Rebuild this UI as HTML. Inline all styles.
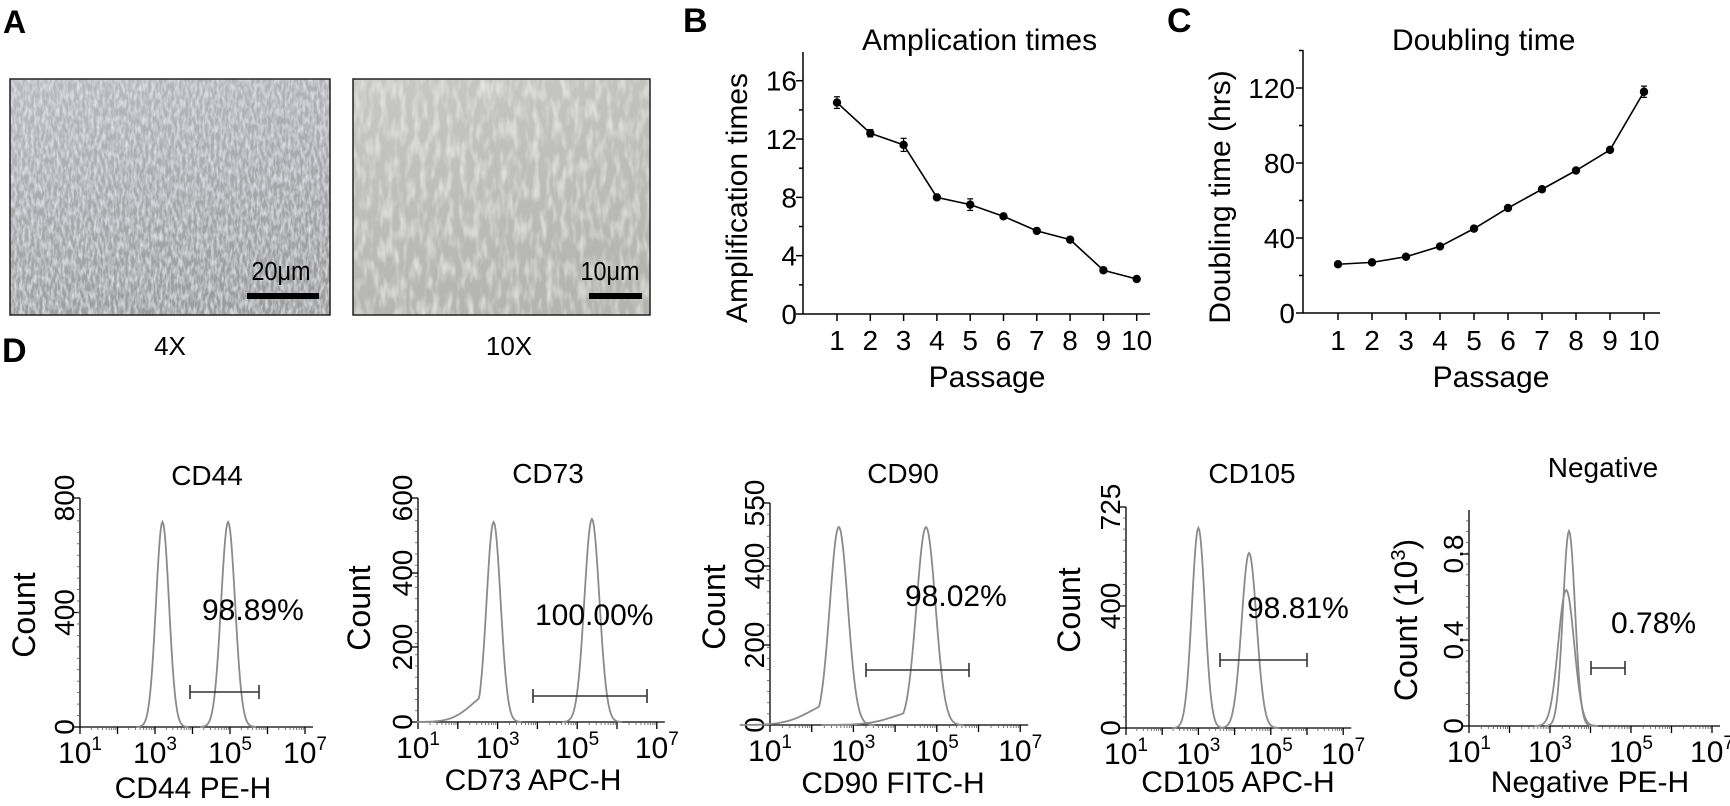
<!DOCTYPE html>
<html><head><meta charset="utf-8"><style>
html,body{margin:0;padding:0;background:#fff;}
svg{display:block;font-family:"Liberation Sans",sans-serif;}
</style></head><body>
<svg id="s" width="1730" height="806" viewBox="0 0 1730 806" xmlns="http://www.w3.org/2000/svg">
<defs>
<filter id="tex1" x="0" y="0" width="100%" height="100%">
<feTurbulence type="fractalNoise" baseFrequency="0.35 0.12" numOctaves="2" seed="3" result="n"/>
<feColorMatrix in="n" type="matrix" values="0 0 0 0 0.88  0 0 0 0 0.9  0 0 0 0 0.95  0 0 0 1.4 -0.5" result="c"/>
<feComposite in="c" in2="SourceGraphic" operator="atop"/>
</filter>
<filter id="tex2" x="0" y="0" width="100%" height="100%">
<feTurbulence type="fractalNoise" baseFrequency="0.15 0.05" numOctaves="2" seed="7" result="n"/>
<feColorMatrix in="n" type="matrix" values="0 0 0 0 0.93  0 0 0 0 0.93  0 0 0 0 0.91  0 0 0 1.3 -0.55" result="c"/>
<feComposite in="c" in2="SourceGraphic" operator="atop"/>
</filter>
<linearGradient id="g1" x1="0" y1="0" x2="0.3" y2="1"><stop offset="0" stop-color="#b8bac2"/><stop offset="1" stop-color="#9c9c9c"/></linearGradient>
<linearGradient id="g2" x1="0" y1="0" x2="0.3" y2="1"><stop offset="0" stop-color="#c8c8c4"/><stop offset="1" stop-color="#b4b4b0"/></linearGradient>
</defs>
<text x="3" y="33" font-size="32" font-weight="bold">A</text>
<rect x="10" y="79" width="320" height="236" fill="url(#g1)" filter="url(#tex1)"/>
<rect x="10" y="79" width="320" height="236" fill="none" stroke="#222" stroke-width="1.5"/>
<rect x="247" y="293" width="72" height="6" fill="#000"/>
<text x="281" y="280" font-size="26" text-anchor="middle" transform="translate(281 0) scale(0.9 1) translate(-281 0)">20μm</text>
<rect x="353" y="79" width="297" height="236" fill="url(#g2)" filter="url(#tex2)"/>
<rect x="353" y="79" width="297" height="236" fill="none" stroke="#222" stroke-width="1.5"/>
<rect x="589" y="293" width="53" height="6" fill="#000"/>
<text x="610" y="280" font-size="26" text-anchor="middle" transform="translate(610 0) scale(0.9 1) translate(-610 0)">10μm</text>
<text x="170" y="355" font-size="26" text-anchor="middle">4X</text>
<text x="509" y="355" font-size="26" text-anchor="middle">10X</text>
<text x="2" y="362" font-size="34" font-weight="bold">D</text>
<text x="683" y="32" font-size="34" font-weight="bold">B</text>
<text x="862" y="50" font-size="30">Amplication times</text>
<text transform="translate(747 198) rotate(-90)" font-size="30" text-anchor="middle">Amplification times</text>
<text x="987" y="387" font-size="30" text-anchor="middle">Passage</text>
<text x="1167" y="32" font-size="34" font-weight="bold">C</text>
<text x="1392" y="50" font-size="30">Doubling time</text>
<text transform="translate(1230 197) rotate(-90)" font-size="30" text-anchor="middle">Doubling time (hrs)</text>
<text x="1491" y="387" font-size="30" text-anchor="middle">Passage</text>
<g id="dyn"></g>
</svg>
<script>
(function(){
var g=document.getElementById("dyn"),h="";
function L(x1,y1,x2,y2,c,w){h+='<line x1="'+x1+'" y1="'+y1+'" x2="'+x2+'" y2="'+y2+'" stroke="'+(c||"#000")+'" stroke-width="'+(w||1.5)+'"/>';}
function T(x,y,s,fs,anc,extra){h+='<text x="'+x+'" y="'+y+'" font-size="'+fs+'" text-anchor="'+(anc||"start")+'" '+(extra||"")+'>'+s+'</text>';}
(function(){
 var ax=803,y0=314,top=52,sc=14.58,x1=837,dx=33.3;
 L(ax,top,ax,y0);L(ax,y0,1150,y0);
 for(var v=0;v<=18;v+=2){var y=y0-v*sc;if(y<top)break;L(ax-(v%4==0?7:4),y,ax,y);if(v%4==0)T(797,y+10,v,28,"end");}
 var d=[14.5,12.4,11.6,8,7.5,6.7,5.7,5.1,3.0,2.4],e=[0.4,0.25,0.45,0.1,0.4,0.15,0.1,0.1,0.15,0.1],p="";
 for(var i=0;i<10;i++){var x=x1+i*dx,y=y0-d[i]*sc;L(x,y0,x,y0+7);T(x,350,i+1,28,"middle");p+=(i?"L":"M")+x+" "+y;
  var ey=e[i]*sc;L(x,y-ey,x,y+ey,"#000",1.2);L(x-3,y-ey,x+3,y-ey,"#000",1.2);L(x-3,y+ey,x+3,y+ey,"#000",1.2);
  h+='<circle cx="'+x+'" cy="'+y+'" r="4.2"/>';}
 h+='<path d="'+p+'" fill="none" stroke="#000" stroke-width="1.6"/>';
})();
(function(){
 var ax=1303,y0=313,top=50,sc=1.875,x1=1338,dx=34;
 L(ax,top,ax,y0);L(ax,y0,1660,y0);
 for(var v=0;v<=140;v+=20){var y=y0-v*sc;if(y<top)break;L(ax-(v%40==0?7:4),y,ax,y);if(v%40==0)T(1295,y+10,v,28,"end");}
 var d=[26,27,30,35.5,45,56,66,76,87,118],p="";
 for(var i=0;i<10;i++){var x=x1+i*dx,y=y0-d[i]*sc;L(x,y0,x,y0+7);T(x,350,i+1,28,"middle");p+=(i?"L":"M")+x+" "+y;
  h+='<circle cx="'+x+'" cy="'+y+'" r="4.2"/>';}
 var ey=3*sc,x=x1+9*dx,y=y0-118*sc;L(x,y-ey,x,y+ey,"#000",1.2);L(x-3,y-ey,x+3,y-ey,"#000",1.2);L(x-3,y+ey,x+3,y+ey,"#000",1.2);
 h+='<path d="'+p+'" fill="none" stroke="#000" stroke-width="1.6"/>';
})();
function hist(o){
 var ax=o.ax,y0=o.y0,top=o.top,dec=o.dec,xe=ax+6*dec;
 L(ax,top,ax,y0,"#000",1.3);L(ax,y0,xe+8,y0,"#000",1.3);
 for(var i=0;i<o.yt.length;i++){var t=o.yt[i];L(ax-6,t[1],ax,t[1],"#000",1.3);
  h+='<text transform="translate('+(ax-6)+' '+t[1]+') rotate(-90)" font-size="28" text-anchor="middle">'+t[0]+'</text>';}
 var n=o.minor||20;for(var k=1;k<n;k++){var y=y0-(y0-top)*k/n;L(ax-3,y,ax,y,"#555",0.8);}
 for(var dd=0;dd<=6;dd++){var x=ax+dd*dec;L(x,y0,x,y0+7,"#000",1.3);
  if(dd<6)for(var m=2;m<10;m++){var xm=x+Math.log10(m)*dec;L(xm,y0,xm,y0+3,"#555",0.8);}
  if(dd%2==0)h+='<text x="'+x+'" y="'+(y0+36)+'" font-size="30" text-anchor="middle">10<tspan font-size="19" dy="-13">'+(dd+1)+'</tspan></text>';}
 for(var j=0;j<o.pk.length;j++){var pk=o.pk[j],cx=ax+(pk[0]-1)*dec,sig=pk[2],ph=pk[1],p="";
  var lo=pk[3]?cx-11*sig:cx-4*sig;
  for(var xx=lo;xx<=cx+4*sig;xx+=1){var u=(xx-cx)/sig;var val=Math.exp(-0.5*u*u);if(pk[3]&&u<0)val=Math.max(val,pk[3]*Math.exp(-0.5*u*u/9));
   p+=(p?"L":"M")+xx.toFixed(1)+" "+(y0-val*ph).toFixed(1);}
  h+='<path d="'+p+'" fill="none" stroke="#8a8a8a" stroke-width="1.8"/>';}
 L(o.bar[0],o.bar[2],o.bar[1],o.bar[2],"#333",1.6);L(o.bar[0],o.bar[2]-7,o.bar[0],o.bar[2]+7,"#333",1.6);L(o.bar[1],o.bar[2]-7,o.bar[1],o.bar[2]+7,"#333",1.6);
 T(o.title[0],o.title[1],o.title[2],28,"middle");
 T(o.pct[0],o.pct[1],o.pct[2],30,"start");
 T(o.xl[0],o.xl[1],o.xl[2],30,"middle");
 h+='<text transform="translate('+o.cl[0]+' '+o.cl[1]+') rotate(-90)" font-size="32" text-anchor="middle">'+o.cl[2]+'</text>';
}
hist({ax:80,y0:727,top:498,dec:37.5,yt:[[0,727],[400,612.5],[800,498]],
 pk:[[3.2,205,6.5],[4.95,205,7]],bar:[190,259,692],title:[207,485,"CD44"],pct:[202,620,"98.89%"],xl:[193,798,"CD44 PE-H"],cl:[35,615,"Count"]});
hist({ax:418,y0:722,top:498,dec:39.8,yt:[[0,722],[200,647],[400,573],[600,498]],
 pk:[[2.9,200,7,0.15],[5.37,203,7.5]],bar:[533,647,696],title:[548,483,"CD73"],pct:[535,625,"100.00%"],xl:[533,790,"CD73 APC-H"],cl:[370,608,"Count"]});
hist({ax:770,y0:725,top:503,dec:41.7,yt:[[0,725],[200,645],[400,566],[550,503]],
 pk:[[2.65,198,9,0.12],[4.74,198,9.5,0.08]],bar:[866,969,670],title:[903,483,"CD90"],pct:[905,606,"98.02%"],xl:[893,793,"CD90 FITC-H"],cl:[725,607,"Count"]});
hist({ax:1126,y0:728,top:507,dec:36.2,yt:[[0,728],[400,606],[725,507]],
 pk:[[3.0,200,6.5],[4.4,175,7.5]],bar:[1220,1307,660],title:[1252,483,"CD105"],pct:[1247,618,"98.81%"],xl:[1238,792,"CD105 APC-H"],cl:[1080,610,"Count"]});
hist({ax:1469,y0:726,top:510,dec:40.5,yt:[[0,726],[0.4,640],[0.8,554]],
 pk:[[3.47,195,6],[3.4,136,8]],bar:[1591,1625,668],title:[1603,477,"Negative"],pct:[1611,633,"0.78%"],xl:[1590,792,"Negative PE-H"],cl:[1417,620,"Count (10<tspan font-size=\"20\" dy=\"-12\">3</tspan><tspan dy=\"12\">)</tspan>"]});
g.innerHTML=h;
})();
</script>
</body></html>
